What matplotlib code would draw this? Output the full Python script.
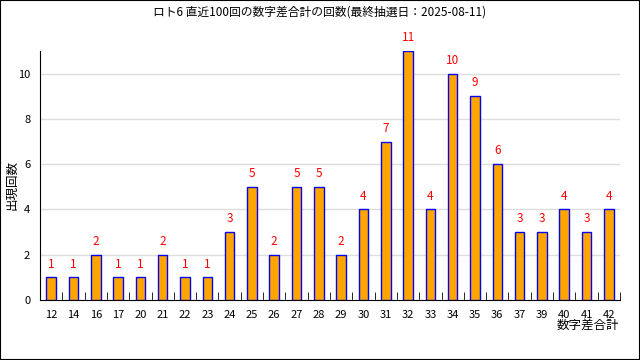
import matplotlib.pyplot as plt
import numpy as np

plt.rcParams['font.family'] = ['Noto Sans CJK JP', 'DejaVu Sans']

sums = ['12', '14', '16', '17', '20', '21', '22', '23', '24', '25', '26', '27', '28',
        '29', '30', '31', '32', '33', '34', '35', '36', '37', '39', '40', '41', '42']
counts = [1, 1, 2, 1, 1, 2, 1, 1, 3, 5, 2, 5, 5, 2, 4, 7, 11, 4, 10, 9, 6, 3, 3, 4, 3, 4]
title = 'ロト6 直近100回の数字差合計の回数(最終抽選日：2025-08-11)'

fig = plt.figure(figsize=(6.4, 3.6), dpi=100)
ax = fig.add_axes([40 / 640, 60 / 360, 580 / 640, 249 / 360])

x = np.arange(len(sums))
ax.bar(x, counts, width=0.43, color='#ffa500', edgecolor='#0000ff', linewidth=1, zorder=3)
for xi, c in zip(x, counts):
    ax.text(xi, c + 0.3, str(c), color='red', ha='center', va='bottom', fontsize=8.5)

ax.set_xlim(-0.5, len(sums) - 0.5)
ax.set_ylim(0, 11)
ax.set_yticks(range(0, 11, 2))
ax.yaxis.grid(True, color='#dddddd', linewidth=1, zorder=0)
ax.set_xticks(x)
ax.set_xticklabels(sums, fontsize=8)
ax.set_xticks(np.arange(len(sums)) + 0.5, minor=True)
ax.tick_params(axis='x', which='major', length=0, pad=7)
ax.tick_params(axis='x', which='minor', direction='in', length=6)
ax.tick_params(axis='y', length=0, labelsize=8, pad=7)
ax.spines['top'].set_visible(False)
ax.spines['right'].set_visible(False)

fig.text(0.5, 1 - 12 / 360, title, ha='center', va='center', fontsize=8.5)
fig.text(12 / 640, 175 / 360, '出現回数', rotation=90, ha='center', va='center', fontsize=9)
fig.text(619 / 640, 1 - 325 / 360, '数字差合計', ha='right', va='center', fontsize=9)

fig.patches.append(plt.Rectangle((0, 0), 1, 1, transform=fig.transFigure,
                                 fill=False, edgecolor='black', linewidth=1.5))

fig.savefig('out.png', dpi=100)
